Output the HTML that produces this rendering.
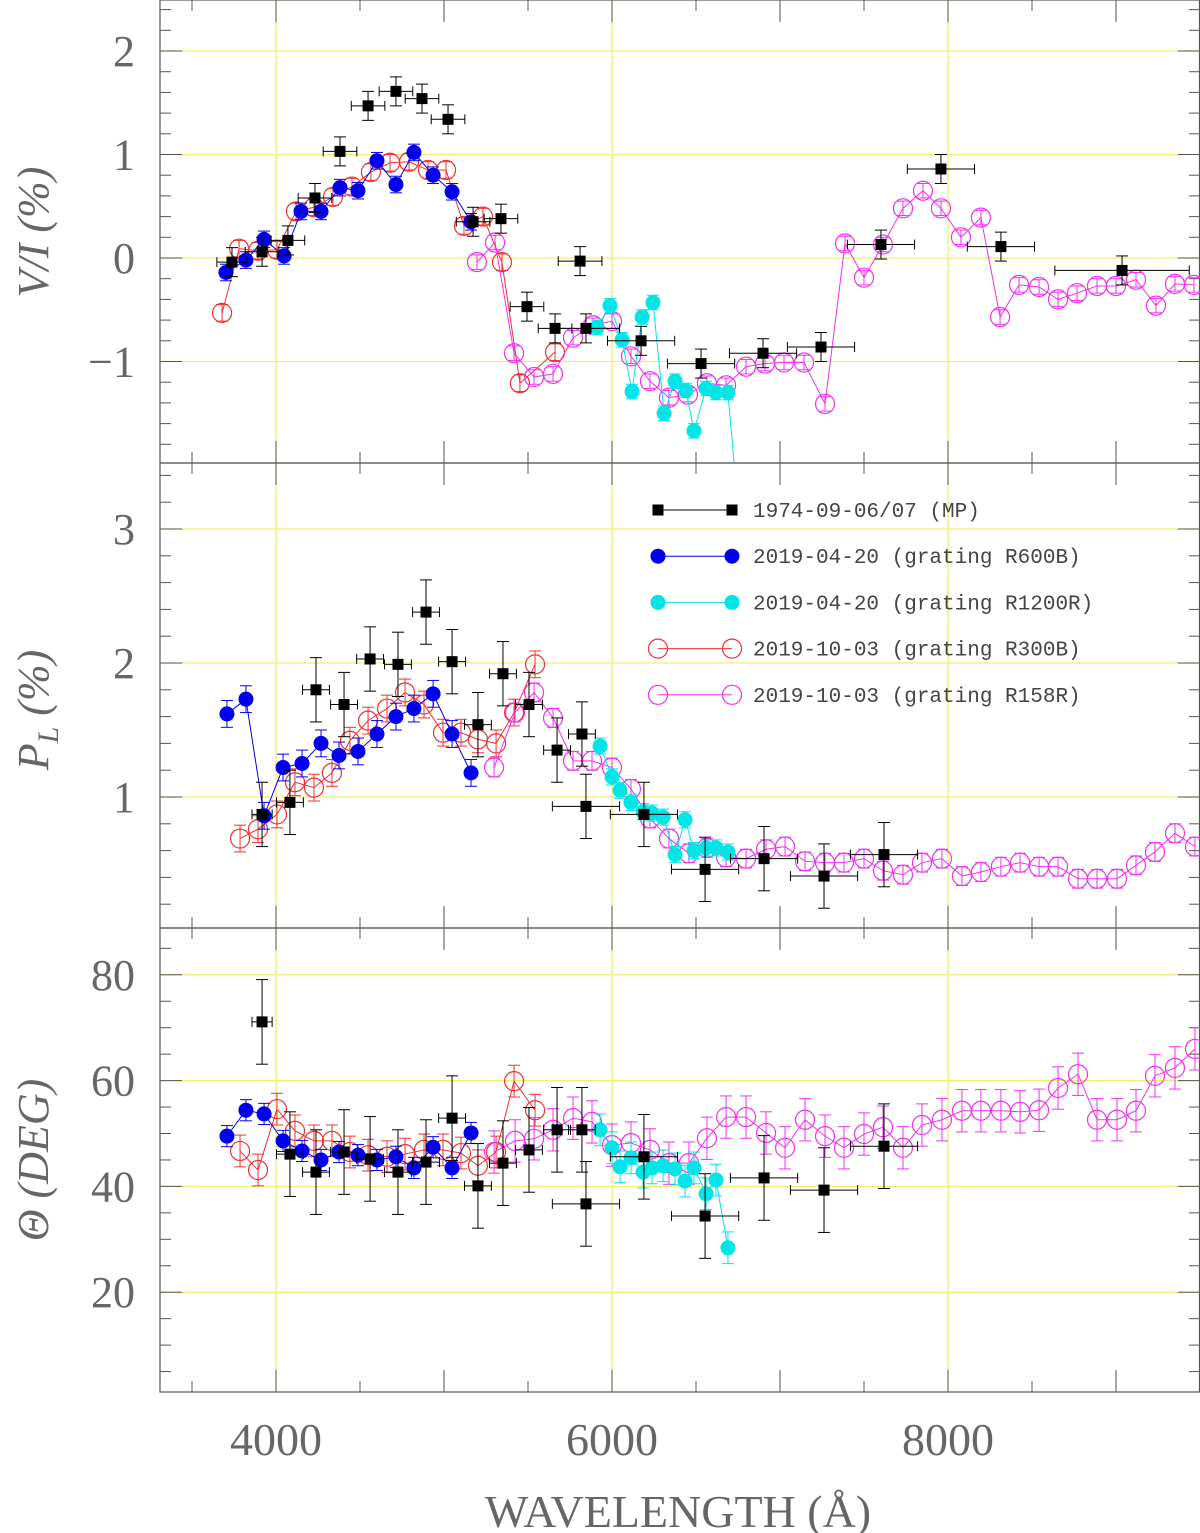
<!DOCTYPE html>
<html><head><meta charset="utf-8">
<style>
html,body{margin:0;padding:0;background:#fff;}
svg{display:block;}
text{font-family:"Liberation Serif",serif;fill:#666;}
</style></head>
<body>
<svg id="chart" width="1200" height="1533" viewBox="0 0 1200 1533" xmlns="http://www.w3.org/2000/svg"></svg>
<script>
// ---- data ----
const blackWl=[3738,3917,4071,4232,4381,4548,4714,4869,5024,5173,5339,5494,5661,5810,5845,6173,6530,6899,7244,7601,7958,8315,9036];
const blackWlErr=[90,100,100,100,100,100,100,100,100,100,100,100,100,130,200,200,200,200,200,200,200,200,400];
const blackVI=[-0.04,0.06,0.17,0.58,1.03,1.47,1.61,1.54,1.34,0.35,0.38,-0.47,-0.68,-0.03,-0.68,-0.80,-1.02,-0.92,-0.86,0.13,0.86,0.11,-0.12];
const blackPLWl=[3917,4083,4238,4405,4560,4726,4893,5048,5202,5351,5506,5673,5821,5845,6190,6554,6905,7262,7619];
const blackPLWlErr=[60,80,80,80,80,80,80,80,80,80,80,80,80,200,200,200,200,200,200];
const blackPL=[0.87,0.96,1.80,1.69,2.03,1.99,2.38,2.01,1.54,1.92,1.69,1.35,1.47,0.93,0.87,0.46,0.54,0.41,0.57];
const blackTheta=[71.1,46.1,42.7,46.5,45.2,42.7,44.6,52.9,40.1,44.4,46.9,50.7,50.7,36.7,45.6,34.4,41.6,39.3,47.6];

const blueWl=[3702,3821,3929,4048,4149,4268,4381,4488,4601,4714,4821,4935,5048,5161];
const blueVI=[-0.14,-0.02,0.18,0.02,0.45,0.45,0.68,0.65,0.94,0.71,1.02,0.80,0.64,0.35];
const bluePLWl=[3708,3821,3929,4042,4155,4268,4375,4488,4601,4714,4821,4935,5048,5161];
const bluePL=[1.62,1.73,0.86,1.22,1.25,1.40,1.31,1.34,1.47,1.60,1.66,1.77,1.47,1.18];
const blueTheta=[49.5,54.4,53.7,48.6,46.7,45.0,46.5,45.9,45.0,45.6,43.5,47.4,43.5,50.1];

const cyanWl=[5911,5988,6060,6119,6179,6244,6310,6375,6440,6488,6560,6619,6690,6744];
const cyanVI=[-0.67,-0.46,-0.79,-1.29,-0.57,-0.43,-1.50,-1.19,-1.28,-1.67,-1.26,-1.30,-1.30,-2.3];
const cyanPLWl=[5929,6000,6048,6113,6185,6238,6304,6375,6435,6488,6560,6619,6690];
const cyanPL=[1.38,1.15,1.05,0.96,0.89,0.88,0.85,0.57,0.83,0.60,0.62,0.62,0.59];
const cyanTheta=[50.7,47.3,43.7,45.4,42.7,43.5,43.9,43.3,41.0,43.5,38.6,41.2,28.4];

const redWl=[3679,3780,3893,4006,4119,4226,4339,4452,4565,4679,4792,4905,5012,5119,5232,5345,5452,5661];
const redVI=[-0.53,0.09,0.07,0.08,0.45,0.49,0.59,0.69,0.83,0.92,0.93,0.85,0.85,0.31,0.40,-0.04,-1.21,-0.91];
const redPLWl=[3786,3893,4006,4113,4226,4333,4440,4548,4661,4768,4881,4994,5101,5202,5310,5417,5542];
const redPL=[0.69,0.76,0.87,1.11,1.07,1.18,1.42,1.57,1.66,1.78,1.69,1.48,1.48,1.43,1.40,1.63,1.99];
const redTheta=[46.7,43.1,54.6,50.5,48.6,48.6,46.5,45.9,45.6,46.1,46.9,46.9,46.3,43.9,46.5,59.9,54.4];

const magWl=[5196,5304,5417,5536,5649,5768,5887,6000,6113,6226,6339,6452,6565,6679,6798,6911,7024,7143,7268,7387,7500,7613,7732,7851,7958,8077,8196,8310,8423,8542,8655,8768,8887,9000,9119,9238,9351,9464];
const magVI=[-0.04,0.15,-0.92,-1.15,-1.12,-0.77,-0.65,-0.61,-0.95,-1.19,-1.35,-1.32,-1.21,-1.23,-1.05,-1.02,-1.01,-1.01,-1.41,0.14,-0.19,0.13,0.48,0.65,0.48,0.20,0.39,-0.57,-0.26,-0.28,-0.40,-0.34,-0.27,-0.27,-0.21,-0.46,-0.25,-0.26];
const magPLWl=[5298,5423,5536,5649,5768,5881,6000,6113,6226,6339,6458,6565,6679,6798,6917,7030,7149,7268,7381,7500,7613,7732,7845,7964,8083,8196,8315,8429,8542,8655,8774,8887,9006,9119,9232,9351,9470];
const magPL=[1.22,1.63,1.78,1.59,1.27,1.27,1.22,1.06,0.84,0.69,0.58,0.62,0.55,0.54,0.61,0.63,0.52,0.51,0.51,0.54,0.45,0.42,0.51,0.54,0.41,0.44,0.48,0.51,0.48,0.48,0.39,0.39,0.39,0.49,0.59,0.73,0.63];
const magTheta=[46.5,48.6,49.0,50.7,52.9,52.2,47.8,48.2,46.9,44.4,44.4,49.1,53.1,53.1,50.1,47.3,52.6,49.5,47.3,49.9,51.2,47.3,51.6,52.6,54.3,54.3,54.3,54.1,54.4,58.6,61.2,52.6,52.6,54.3,60.9,62.4,66.0];

const xTickLabels=[4000,6000,8000];
const viTickLabels=[2,1,0,-1];
const plTickLabels=[3,2,1];
const thTickLabels=[80,60,40,20];

// ---- layout ----
const NS="http://www.w3.org/2000/svg";
const svg=document.getElementById('chart');
const L=160,R=1200;
function X(w){return 276+(w-4000)*0.168;}
const panels={
 vi:{top:0,bot:463,y:v=>258-103.5*v,min:-1.98,max:2.49,minor:0.2,major:1,ticks:viTickLabels},
 pl:{top:463,bot:928,y:v=>931-134*v,min:0.02,max:3.49,minor:0.2,major:1,ticks:plTickLabels},
 th:{top:928,bot:1392,y:v=>1398-5.29*v,min:1,max:88,minor:5,major:20,ticks:thTickLabels}
};
function el(tag,attrs,parent){const e=document.createElementNS(NS,tag);for(const k in attrs)e.setAttribute(k,attrs[k]);(parent||svg).appendChild(e);return e;}

const clipDefs=el('defs',{});
for(const key in panels){
 const p=panels[key];
 const cp=el('clipPath',{id:'clip-'+key},clipDefs);
 el('rect',{x:L,y:p.top,width:R-L,height:p.bot-p.top},cp);
 const g=el('g',{});
 
 
 p.g=g;
 const grid=el('g',{'clip-path':'url(#clip-'+key+')'},g);
 
 
 for(const w of xTickLabels) el('line',{x1:X(w),x2:X(w),y1:p.top,y2:p.bot,stroke:'#f2ee70','stroke-width':1.3},grid);
 for(let v=Math.ceil(p.min/p.major)*p.major;v<=p.max;v+=p.major) el('line',{x1:L,x2:R,y1:p.y(v),y2:p.y(v),stroke:'#f2ee70','stroke-width':1.3},grid);
 const tk=el('g',{stroke:'#555','stroke-width':1},g);
 
 
 const n0=Math.ceil(p.min/p.minor-1e-6),n1=Math.floor(p.max/p.minor+1e-6);
 for(let n=n0;n<=n1;n++){const v=n*p.minor;const maj=Math.abs(v/p.major-Math.round(v/p.major))<1e-6;const len=maj?22:11;const y=p.y(v);
  el('line',{x1:L,x2:L+len,y1:y,y2:y},tk);el('line',{x1:R-len,x2:R,y1:y,y2:y},tk);}
 for(let w=3500;w<=9500;w+=500){const maj=w%1000===0;const len=maj?22:11;
  el('line',{x1:X(w),x2:X(w),y1:p.bot,y2:p.bot-len},tk);el('line',{x1:X(w),x2:X(w),y1:p.top,y2:p.top+len},tk);}
 el('rect',{x:L,y:p.top,width:R-L-0.5,height:p.bot-p.top,fill:'none',stroke:'#555','stroke-width':1.2},g);
 for(const v of p.ticks){
  const t=el('text',{x:135,y:p.y(v)+15,'text-anchor':'end','font-size':44},g);
  t.textContent=v<0?'\u2212'+Math.abs(v):String(v);
  
  
 }
 p.data=el('g',{'clip-path':'url(#clip-'+key+')'},g);
}
function title(x,y,name,html){const t=el('text',{x:x,y:y,'text-anchor':'middle','font-size':44,'font-style':'italic',transform:'rotate(-90 '+x+' '+y+')'});t.innerHTML=html;}
title(48,232,'vi-axis-title','V/I (%)');
title(48,710,'pl-axis-title','P<tspan font-size="30" dy="10">L</tspan><tspan dy="-10"> (%)</tspan>');
title(48,1160,'theta-axis-title','\u0398 (DEG)');
for(const w of xTickLabels){const t=el('text',{x:X(w),y:1455,'text-anchor':'middle','font-size':46});t.textContent=w;
 }
{const t=el('text',{x:678,y:1527,'text-anchor':'middle','font-size':46});t.textContent='WAVELENGTH (\u00c5)';
 }

function marker(g,type,color,x,y){
 if(type==='sq') return el('rect',{x:x-5.5,y:y-5.5,width:11,height:11,fill:'#000'},g);
 if(type==='fc') return el('circle',{cx:x,cy:y,r:7.5,fill:color},g);
 return el('circle',{cx:x,cy:y,r:9.5,fill:'none',stroke:color,'stroke-width':1.2},g);
}
function series(pk,name,type,color,wl,vals,yerr,xerr,noLine){
 const p=panels[pk];
 const g=el('g',{},p.data);
 
 
 const pts=wl.map((w,i)=>[X(w),p.y(vals[i])]);
 if(!noLine) el('polyline',{points:pts.map(q=>q.join(',')).join(' '),fill:'none',stroke:color,'stroke-width':1},g);
 pts.forEach((q,i)=>{
  const ye=Math.abs(p.y(vals[i]+yerr)-p.y(vals[i]));
  el('line',{x1:q[0],x2:q[0],y1:q[1]-ye,y2:q[1]+ye,stroke:color,'stroke-width':1},g);
  el('line',{x1:q[0]-6,x2:q[0]+6,y1:q[1]-ye,y2:q[1]-ye,stroke:color,'stroke-width':1},g);
  el('line',{x1:q[0]-6,x2:q[0]+6,y1:q[1]+ye,y2:q[1]+ye,stroke:color,'stroke-width':1},g);
  if(xerr){const xe=xerr[i]*0.168;el('line',{x1:q[0]-xe,x2:q[0]+xe,y1:q[1],y2:q[1],stroke:color,'stroke-width':1},g);
   el('line',{x1:q[0]-xe,x2:q[0]-xe,y1:q[1]-5,y2:q[1]+5,stroke:color},g);el('line',{x1:q[0]+xe,x2:q[0]+xe,y1:q[1]-5,y2:q[1]+5,stroke:color},g);}
  const m=marker(g,type,color,q[0],q[1]);
  
  
 });
}
const C={k:'#000',b:'#0000ee',c:'#00e5e5',r:'#f03030',m:'#f030f0'};
series('vi','red-r300b-vi','oc',C.r,redWl,redVI,0.08);
series('vi','magenta-r158r-vi','oc',C.m,magWl,magVI,0.07);
series('vi','blue-r600b-vi','fc',C.b,blueWl,blueVI,0.08);
series('vi','cyan-r1200r-vi','fc',C.c,cyanWl,cyanVI,0.07);
series('vi','black-1974-vi','sq',C.k,blackWl,blackVI,0.14,blackWlErr,true);
series('pl','red-r300b-pl','oc',C.r,redPLWl,redPL,0.1);
series('pl','magenta-r158r-pl','oc',C.m,magPLWl,magPL,0.07);
series('pl','blue-r600b-pl','fc',C.b,bluePLWl,bluePL,0.1);
series('pl','cyan-r1200r-pl','fc',C.c,cyanPLWl,cyanPL,0.06);
series('pl','black-1974-pl','sq',C.k,blackPLWl,blackPL,0.24,blackPLWlErr,true);
series('th','red-r300b-theta','oc',C.r,redPLWl,redTheta,3);
series('th','magenta-r158r-theta','oc',C.m,magPLWl,magTheta,4);
series('th','blue-r600b-theta','fc',C.b,bluePLWl,blueTheta,2);
series('th','cyan-r1200r-theta','fc',C.c,cyanPLWl,cyanTheta,3);
series('th','black-1974-theta','sq',C.k,blackPLWl,blackTheta,8,blackPLWlErr,true);

const legLabels=['1974-09-06/07 (MP)','2019-04-20 (grating R600B)','2019-04-20 (grating R1200R)','2019-10-03 (grating R300B)','2019-10-03 (grating R158R)'];
const legTypes=['sq','fc','fc','oc','oc'];
const legColors=[C.k,C.b,C.c,C.r,C.m];
const lg=el('g',{});


legLabels.forEach((lab,i)=>{
 const y=510+i*46.2;
 const e=el('g',{},lg);
 
 
 el('line',{x1:658,x2:732,y1:y,y2:y,stroke:legColors[i],'stroke-width':1},e);
 marker(e,legTypes[i],legColors[i],658,y);marker(e,legTypes[i],legColors[i],732,y);
 const t=el('text',{x:753,y:y+7,'font-size':21,style:'font-family:"Liberation Mono",monospace;fill:#444'},e);
 t.textContent=lab;
});
</script>
</body></html>
